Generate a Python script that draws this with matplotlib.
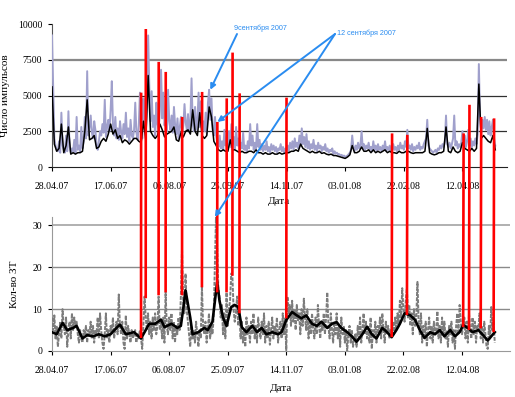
import numpy as np
import matplotlib
matplotlib.use("Agg")
import matplotlib.pyplot as plt
import matplotlib.dates as mdates
from matplotlib.patches import ConnectionPatch
from matplotlib.text import Annotation
import datetime as dt

plt.rcParams['font.family'] = ['Liberation Serif', 'DejaVu Serif']

start = dt.date(2007, 4, 28)

# Upper panel: counts (daily, light series)
upper_gray = [
 9200, 5500, 2000, 1500, 1200, 1100, 1800, 1000, 3800, 1500,
 1200, 1000, 2200, 1100, 3900, 1400, 1000, 1300, 1100, 1900,
 1000, 3500, 1200, 1500, 1100, 2800, 1300, 1800, 3500, 2000,
 6700, 2200, 2800, 3600, 2400, 2000, 3200, 2600, 1500, 1200,
 1800, 2500, 2200, 3000, 2400, 4700, 2100, 2800, 3300, 2500,
 4000, 6000, 2900, 2200, 3500, 2000, 2700, 1900, 3200, 2400,
 2000, 3000, 2300, 3800, 2100, 2700, 1800, 3300, 2200, 2000,
 2600, 4500, 2400, 1900, 2900, 5200, 2400, 2000, 4800, 3000,
 2500, 4200, 9200, 5500, 3200, 5300, 2800, 3600, 2200, 4500,
 3000, 2600, 4000, 6800, 3400, 5200, 2900, 3800, 2500, 5400,
 3200, 2600, 3600, 2400, 4200, 2900, 2300, 3400, 2000, 2800,
 3500, 2400, 2900, 4400, 3100, 2600, 3700, 2500, 3200, 6200,
 3000, 2500, 4200, 2600, 3200, 5200, 2800, 4600, 2700, 3200,
 2500, 3800, 2300, 4500, 5400, 3300, 4800, 2600, 2200, 3500,
 2200, 1600, 1400, 2200, 1300, 1800, 1200, 2600, 1500, 1900,
 1300, 2500, 1400, 3000, 1600, 2100, 1300, 2800, 1500, 2000,
 1200, 1700, 1300, 2400, 1200, 1500, 1100, 1800, 1300, 3000,
 1500, 2200, 1200, 1700, 1300, 3000, 1400, 1900, 1200, 1600,
 1100, 1500, 1200, 1800, 1100, 1400, 1000, 1600, 1200, 1500,
 1100, 1400, 1000, 1300, 1200, 1600, 1100, 1400, 1000, 1300,
 1200, 1500, 1100, 1700, 1300, 1800, 1200, 2000, 1400, 1700,
 1300, 2200, 1500, 2700, 1600, 2100, 1400, 2300, 1300, 1800,
 1200, 1600, 1300, 1900, 1200, 1500, 1100, 1700, 1300, 1500,
 1100, 1400, 1200, 1600, 1100, 1300, 1000, 1200, 1100, 1300,
 900, 1100, 950, 1000, 850, 900, 800, 850, 750, 800,
 700, 750, 800, 900, 1000, 1200, 2200, 1400, 1100, 1500,
 1200, 1700, 1300, 1500, 2500, 1300, 1600, 1200, 1500, 1300,
 1700, 1200, 1400, 1100, 1800, 1200, 1500, 1100, 1600, 1200,
 1400, 1100, 1500, 1200, 1800, 1100, 1400, 1200, 1500, 1100,
 1300, 1600, 1200, 1400, 1100, 1500, 1200, 1700, 1300, 1500,
 1200, 1800, 1400, 2600, 1300, 1500, 1200, 1600, 1100, 1400,
 1200, 1500, 1300, 1700, 1200, 1400, 1300, 1600, 1800, 2000,
 3300, 1500, 1300, 1200, 1100, 1000, 1100, 1200, 1000, 1300,
 1200, 1500, 1300, 1600, 1400, 1800, 3600, 1600, 1400, 1700,
 1300, 1600, 2000, 3600, 1500, 1800, 1300, 1600, 1400, 1700,
 2500, 1500, 2200, 1400, 1800, 2600, 1500, 2000, 1400, 1800,
 1500, 2000, 1600, 2300, 7200, 3500, 2400, 3300, 2700, 3500,
 2600, 3300, 2300, 3200, 2200, 2800, 3300, 2000, 1500,
]

# Upper panel: counts (every 2 days, dark series)
upper_black = [
 5600, 1600, 1100, 1300, 3000, 1000, 1500, 2800, 900, 1000,
 900, 1000, 1000, 1100, 2500, 4700, 1900, 2000, 2200, 1300,
 1400, 1800, 2000, 1800, 2300, 3000, 2300, 2600, 2000, 2200,
 1700, 1900, 1800, 1600, 1800, 2000, 2000, 1800, 1700, 3200,
 1900, 6400, 2500, 2200, 2000, 2200, 3000, 2600, 2100, 2300,
 2400, 2500, 2800, 1900, 1800, 2400, 2100, 2500, 2600, 2300,
 4000, 2500, 2200, 3800, 2200, 2000, 2200, 4200, 3500, 1800,
 1500, 1200, 1100, 1200, 1100, 1100, 1900, 1200, 1200, 1100,
 1000, 1100, 1000, 1000, 1100, 1100, 1000, 1200, 1000, 1000,
 900, 1000, 900, 900, 1000, 900, 900, 1000, 900, 950,
 1000, 1000, 1100, 1100, 1200, 1100, 1600, 1300, 1200, 1100,
 1000, 1100, 1000, 1000, 1100, 950, 1000, 900, 850, 900,
 800, 800, 750, 700, 650, 600, 700, 850, 1500, 1000,
 1000, 1100, 1400, 1100, 1100, 1200, 1000, 1200, 1000, 1100,
 1000, 1100, 1200, 1000, 1100, 1000, 1000, 950, 1100, 1000,
 1000, 1100, 1100, 1000, 950, 1000, 1000, 1000, 1000, 1100,
 2700, 1000, 900, 850, 900, 1000, 1000, 1100, 2800, 1100,
 1000, 1400, 1100, 1000, 1100, 1700, 1300, 1200, 1100, 1300,
 1100, 1300, 5800, 2000, 2200, 2000, 1800, 1700, 2200, 1200,
]

# Lower panel: number of events (daily, grey series)
lower_gray = [
 8, 5, 8.5, 3, 6, 1, 4, 7, 3, 10,
 6, 4, 8, 1, 5, 7, 3, 9, 5, 8,
 6, 7, 4, 2, 5, 3, 2, 5, 4, 6,
 2, 5, 4, 7, 3, 6, 2, 5, 4, 8,
 3, 9, 5, 2, 0.5, 4, 9, 3, 5, 2,
 6, 4, 8, 3, 5, 7, 4, 13.5, 6, 4,
 7, 2, 0.5, 8.5, 3, 6, 4, 2, 5, 3,
 4, 5, 2, 4, 3, 5, 3, 0.5, 6, 13,
 8, 5, 9, 4, 7, 3, 8, 5, 9, 4,
 6, 13, 5, 7, 3, 8, 2, 14, 6, 4,
 8, 5, 9, 3, 7, 2, 6, 4, 8, 5,
 13, 24.5, 12, 9, 18.5, 10, 7, 4, 1, 6,
 3, 5, 2, 7, 4, 1, 5, 3, 15.5, 6,
 4, 7, 2, 5, 9, 3, 6, 4, 8, 19.5,
 32, 25, 15, 13, 8, 11, 4, 9, 3, 14,
 6, 10, 12, 18.5, 18, 10, 7, 9, 13, 6,
 9, 3, 7, 2, 5, 1, 8, 4, 6, 2,
 7, 4, 9, 3, 6, 2, 8, 5, 3, 7,
 4, 9, 2, 6, 3, 7, 1.5, 5, 8, 3,
 6, 4, 8, 2, 5, 7, 3, 9, 4, 7.8,
 0.2, 13, 9, 11, 6, 12, 7, 10, 5, 11,
 7, 9, 4, 10, 6, 12.5, 8, 5, 10, 3,
 7, 4, 9, 5, 3, 8, 4, 11, 6, 3,
 7, 5, 9, 4, 8, 14, 6, 3, 9, 5,
 2, 7, 4, 9, 3, 6, 1, 8, 4, 6,
 2, 5, 0, 4, 6, 2, 5, 1, 3, 4,
 1, 6, 3, 8, 2, 5, 9, 4, 7, 3,
 6, 2, 8, 0.5, 5, 3, 7, 2, 6, 4,
 8, 3, 9, 5, 2, 7, 4, 6, 3, 5,
 3.3, 7, 4, 8, 5, 9, 6, 12, 8, 15,
 10, 7, 12, 15, 8, 11, 6, 9, 4, 10,
 6, 8, 16.5, 7, 4, 9, 2, 6, 3, 7,
 1, 5, 8, 3, 6, 2, 7, 4, 5, 9.5,
 3, 6, 2, 8, 4, 7, 3, 5, 1, 6,
 4, 7, 2, 5, 0.5, 6, 9, 4, 11, 7,
 4, 5.7, 8, 3, 7, 2, 9, 5, 3, 8,
 4, 7, 2, 6, 5, 9, 3, 6, 2, 7,
 4, 1, 0.5, 6, 3, 10.5, 5, 7, 2,
]

# Lower panel: smoothed series (day offset, value)
lower_black_day = [0, 4, 9, 13, 18, 21, 26, 30, 35, 40, 45, 50, 55, 58, 63, 70, 76, 80, 83, 88,
                   93, 96, 102, 107, 110, 112, 114, 118, 120, 125, 130, 133, 137, 141, 143, 146, 149, 153, 156, 159,
                   162, 166, 171, 175, 179, 183, 188, 193, 196, 200, 205, 209, 213, 217, 222, 226, 230, 235, 239, 243,
                   247, 252, 256, 260, 265, 269, 273, 277, 282, 286, 290, 294, 297, 301, 306, 310, 314, 318, 323, 327,
                   331, 335, 340, 344, 348, 351, 355, 359, 364, 368, 372, 375, 378]
lower_black_val = [4.5, 4.0, 6.7, 5.0, 5.5, 6.0, 3.0, 3.8, 3.5, 4.0, 3.5, 4.0, 5.5, 6.3, 4.0, 4.5, 3.0, 5.0, 6.5, 6.5,
                   7.5, 5.7, 6.5, 5.5, 6.0, 10.0, 14.5, 8.0, 4.0, 4.5, 5.5, 5.0, 7.0, 16.5, 12.0, 8.0, 6.0, 10.5, 11.0, 10.5,
                   5.7, 4.5, 6.0, 4.5, 5.5, 4.0, 4.5, 4.0, 4.5, 7.4, 9.3, 8.5, 7.8, 8.5, 6.5, 6.0, 7.0, 5.5, 6.5, 6.9,
                   5.5, 4.5, 3.5, 2.2, 4.0, 5.8, 4.0, 3.0, 5.5, 4.5, 3.3, 5.0, 6.5, 9.0, 8.5, 7.4, 5.0, 3.1, 4.5, 4.0,
                   5.0, 3.5, 5.0, 3.5, 4.5, 6.2, 5.5, 4.5, 5.0, 3.8, 2.5, 3.5, 4.5]

# Red event markers: day offset, value in upper panel, value in lower panel
event_day = [76, 80, 91, 97, 111, 128, 141, 149, 154, 160, 200, 290, 303, 351, 356, 366, 377]
event_top = [5200, 9650, 7350, 6650, 3500, 5250, 3150, 4800, 8000, 5150, 4850, 2350, 2250, 2350, 4350, 3500, 3400]
event_bottom = [3.1, 12.6, 13.3, 14, 13.3, 15.2, 14, 14, 18, 9, 7.8, 3.3, 8.6, 5.7, 5, 5.4, 4.5]

x_tick_labels = ['28.04.07', '17.06.07', '06.08.07', '25.09.07', '14.11.07', '03.01.08', '22.02.08', '12.04.08']
upper_yticks = [0, 2500, 5000, 7500, 10000]
lower_yticks = [0, 10, 20, 30]


def day2num(d):
    return mdates.date2num(np.datetime64(start) + np.asarray(d).astype('timedelta64[D]'))

fig = plt.figure(figsize=(5.15, 3.97), dpi=100)
W, H = 515, 397
ax1 = fig.add_axes([52 / W, 1 - 167 / H, (507 - 52) / W, (167 - 24) / H])
ax2 = fig.add_axes([52 / W, 1 - 351 / H, (510 - 52) / W, (351 - 217) / H])

x_up_g = day2num(np.arange(len(upper_gray)))
x_up_b = day2num(np.arange(len(upper_black)) * 2)
x_lo_g = day2num(np.arange(len(lower_gray)))
x_lo_b = day2num(lower_black_day)
tick_x = day2num([50 * i for i in range(len(x_tick_labels))])

ax1.plot(x_up_g, upper_gray, color='#a0a0cc', lw=1.4, zorder=3)
ax1.plot(x_up_b, upper_black, color='black', lw=1.1, zorder=4)

ax2.plot(x_lo_g, lower_gray, color='#7c7c7c', lw=1.4, linestyle=(0, (2.0, 0.7)), zorder=3)
ax2.plot(x_lo_b, lower_black_val, color='black', lw=1.9, zorder=4)

for ax, lim in ((ax1, 388.5), (ax2, 391)):
    ax.set_xlim(day2num(0), day2num(lim))
    ax.set_xticks(tick_x)
    ax.set_xticklabels(x_tick_labels)
    ax.spines['top'].set_visible(False)
    ax.spines['right'].set_visible(False)
    ax.tick_params(axis='both', labelsize=7, length=3, direction='out', pad=8)
    ax.tick_params(axis='y', pad=4, length=3)

ax1.set_ylim(0, 10000)
ax1.set_yticks(upper_yticks)
ax1.set_yticklabels([str(v) for v in upper_yticks])
for v, c, w in ((2500, '#303030', 0.9), (5000, '#303030', 0.9), (7500, '#888888', 1.6)):
    ax1.axhline(v, color=c, lw=w, zorder=1)
ax1.spines['left'].set_color('#555555')
ax1.spines['bottom'].set_color('#222222')

ax2.set_ylim(0, 32)
ax2.set_yticks(lower_yticks)
ax2.set_yticklabels([str(v) for v in lower_yticks])
for v, c, w in ((10, '#8a8a8a', 1.0), (20, '#8a8a8a', 1.0), (30, '#b0b0b0', 1.4)):
    ax2.axhline(v, color=c, lw=w, zorder=1)
ax2.spines['left'].set_color('#999999')
ax2.spines['bottom'].set_color('#999999')

ax1.set_ylabel('Число импульсов', fontsize=8, labelpad=6)
ax2.set_ylabel('Кол-во ЗТ', fontsize=8, labelpad=10)
ax1.set_xlabel('Дата', fontsize=8, labelpad=4)
ax2.set_xlabel('Дата', fontsize=8, labelpad=6)

# red lines linking both panels
for d, t, b in zip(event_day, event_top, event_bottom):
    xd = day2num(d)
    con = ConnectionPatch(xyA=(xd, t), coordsA=ax1.transData,
                          xyB=(xd, b), coordsB=ax2.transData,
                          color='#ff0000', lw=1.9, capstyle='butt', zorder=10)
    fig.add_artist(con)

blue = '#2a8cf0'
sans = ['Liberation Sans', 'DejaVu Sans']
fig.text(234 / W, 1 - 28 / H, '9сентября 2007', fontsize=5.2, color=blue, family=sans, va='center', ha='left')
fig.text(337 / W, 1 - 33 / H, '12 сентября 2007', fontsize=5.2, color=blue, family=sans, va='center', ha='left')

arrow_kw = dict(arrowstyle='-|>', color=blue, lw=1.4, mutation_scale=8, shrinkA=0, shrinkB=0)
arrows = [
    (ax1, 135, 5400, 237, 34),
    (ax1, 141, 3150, 335, 34),
    (ax2, 139, 32, 335, 34),
]
for ax, d, v, px, py in arrows:
    ann = Annotation('', xy=(day2num(d), v), xycoords=ax.transData,
                     xytext=(px / W, 1 - py / H), textcoords=fig.transFigure,
                     arrowprops=arrow_kw, annotation_clip=False)
    ann.set_zorder(12)
    fig.add_artist(ann)

fig.savefig('out.png', dpi=100)
